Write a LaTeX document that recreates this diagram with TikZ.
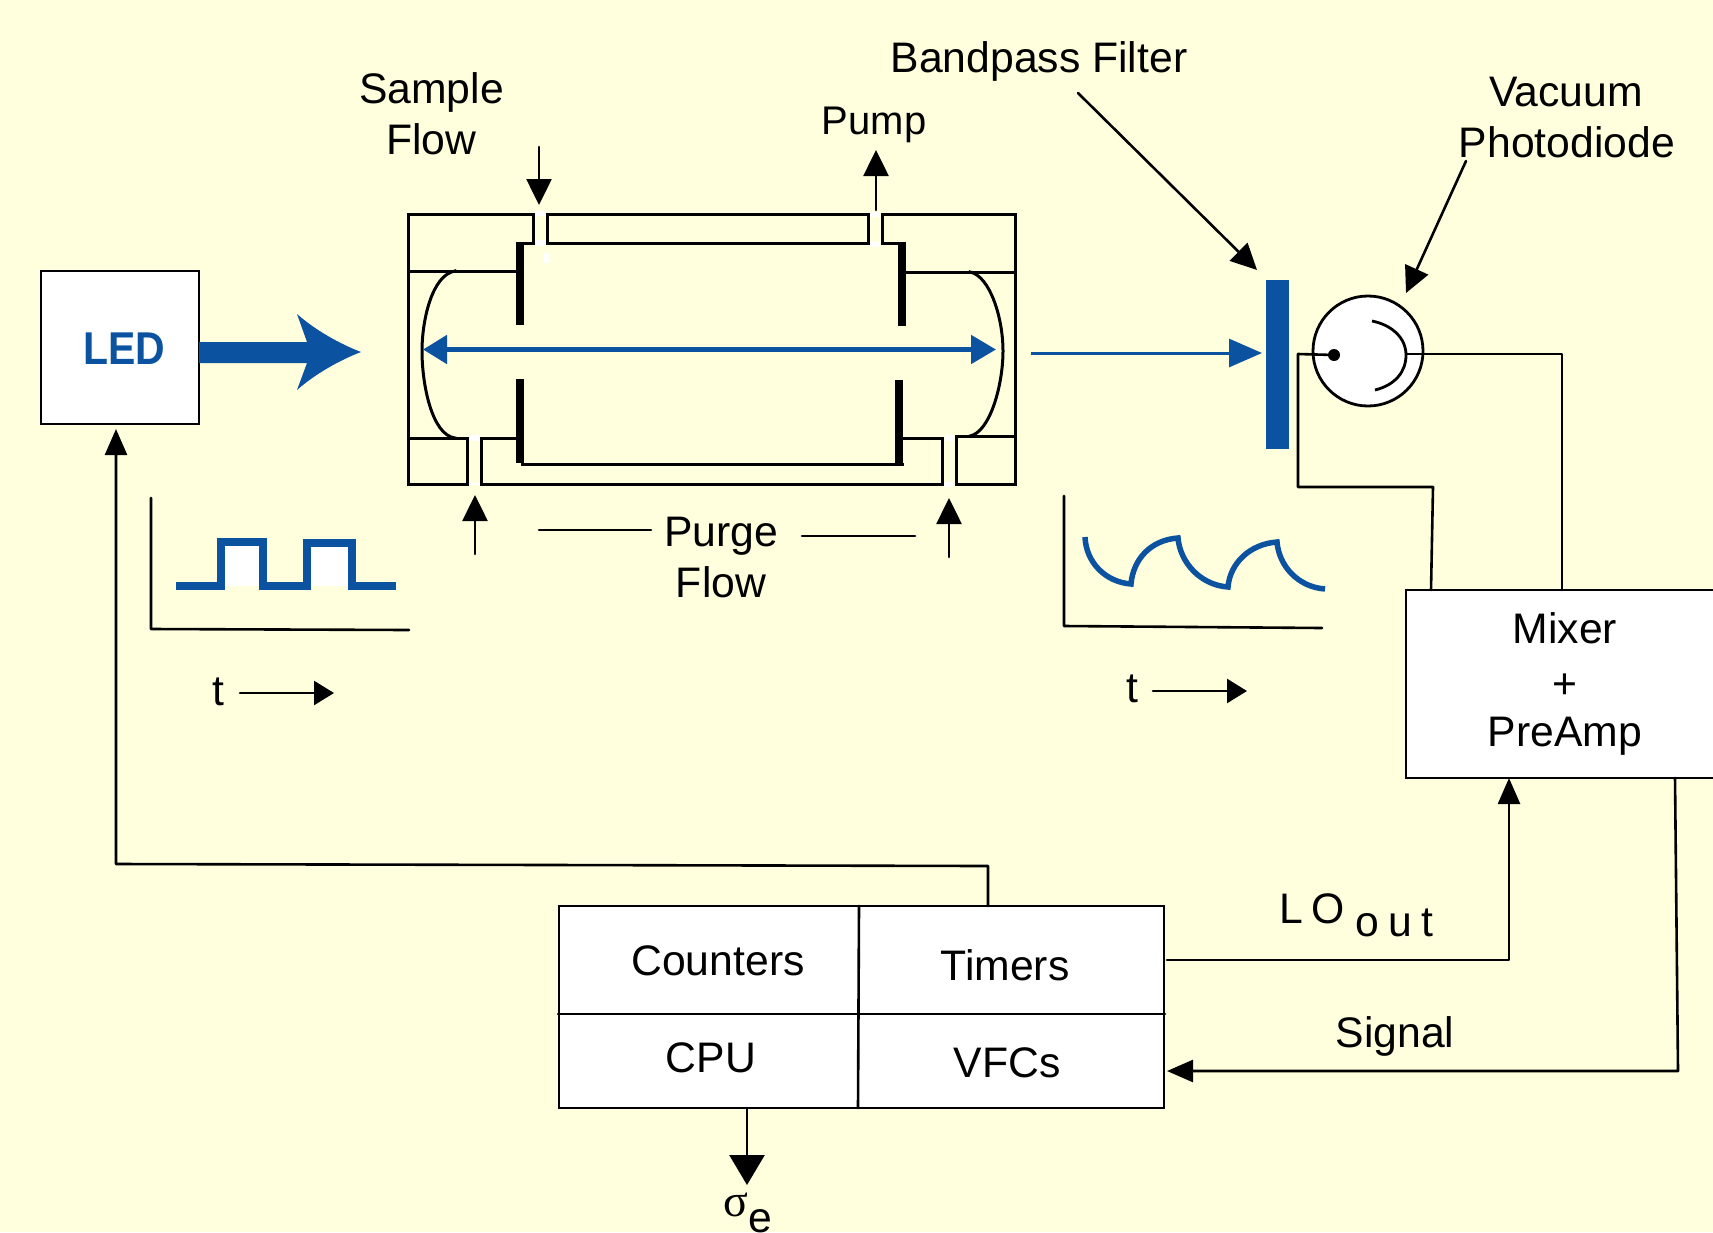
\documentclass[tikz,border=0pt]{standalone}
\usepackage{fontspec}
\setmainfont{Liberation Sans}
\newfontfamily\greekserif{Liberation Serif}
\usetikzlibrary{arrows.meta}
\definecolor{bgcream}{HTML}{FFFFDE}
\definecolor{ledblue}{HTML}{0B52A0}
\tikzset{
  x=1pt,y=-1pt,
  wire/.style={draw=black,line width=2.6pt,line cap=round,line join=round},
  stopper/.style={fill=black,draw=none},
  tip/.style={-{Triangle[length=26pt,width=25pt]}},
  bigtip/.style={-{Triangle[length=30pt,width=35pt]}},
  bluepath/.style={draw=ledblue,line join=miter},
  label/.style={anchor=base,inner sep=0pt,outer sep=0pt,font=\fontsize{42.7}{50}\selectfont},
  portgap/.style={fill=white,draw=none},
  boxnode/.style={draw=black,line width=2.8pt,fill=white,inner sep=0pt}
}
\begin{document}
\begin{tikzpicture}
\clip (0,0) rectangle (1713,1232);
\fill[bgcream] (0,0) rectangle (1713,1232);

% ---------- LED and its beam
\node[boxnode,minimum width=158pt,minimum height=153pt] (led) at (120,347.5) {};
\node[inner sep=0pt,text=ledblue,font=\fontsize{46}{50}\selectfont\bfseries] (ledtext) at (124,349) {\scalebox{.89}[1]{LED}};
\fill[ledblue] (199,342) -- (307,342) -- (297,314) .. controls (315,330) and (340,344) .. (361,352) .. controls (340,360) and (315,374) .. (297,390) -- (307,363) -- (199,363) -- cycle;

% ---------- cell
\begin{scope}[line width=3pt,line cap=rect]
\draw (533,214) -- (408,214) -- (408,484) -- (467,484);
\draw (547,214) -- (868,214);
\draw (882,214) -- (1015,214) -- (1015,484) -- (956,484);
\draw (481,484) -- (942,484);
\draw (520,243) -- (533,243) -- (533,214);
\draw (547,214) -- (547,243) -- (868,243) -- (868,214);
\draw (882,214) -- (882,243) -- (902,243);
\draw (522,464) -- (902,464);
\draw (408,271) -- (516,271);
\draw (408,438) -- (467,438) -- (467,484);
\draw (481,484) -- (481,438) -- (516,438);
\draw (906,272) -- (1015,272);
\draw (903,438) -- (942,438) -- (942,484);
\draw (956,484) -- (956,436) -- (1015,436);
\draw (455,271) .. controls (432,275) and (422,320) .. (422,351) .. controls (422,385) and (432,435) .. (455,438);
\draw (970,272) .. controls (990,276) and (1003,318) .. (1003,351) .. controls (1003,385) and (990,432) .. (970,436);
\end{scope}
\fill[stopper] (516,242) rectangle (524,325);
\fill[stopper] (516,379) rectangle (524,463);
\fill[stopper] (898,242) rectangle (906,326);
\fill[stopper] (895,380) rectangle (903,464);
% white flecks in the ports
\fill[portgap] (535.5,211) rectangle (545.5,216);
\fill[portgap] (535.5,240) rectangle (545.5,246);
\fill[portgap] (544,253) rectangle (549,263);
\fill[portgap] (870,212) rectangle (880,217);
\fill[portgap] (870,242) rectangle (880,247);
\fill[portgap] (469.5,435) rectangle (478.5,441);
\fill[portgap] (469,483) rectangle (479,485);
\fill[portgap] (944.5,435) rectangle (953.5,441);
\fill[portgap] (944,482) rectangle (954,487);
% beam through the cell
\draw[ledblue,line width=5pt,{Triangle[length=24pt,width=28pt]}-{Triangle[length=25pt,width=28pt]}] (423,349.5) -- (996,349.5);

% ---------- flow arrows
\coordinate (samplein) at (539,147); \coordinate (sampletip) at (539,205);
\coordinate (pumpout) at (876,210); \coordinate (pumptip) at (876,150);
\coordinate (purgeL) at (475,554); \coordinate (purgeLtip) at (475,495);
\coordinate (purgeR) at (949,557); \coordinate (purgeRtip) at (949,498);
\draw[wire,tip] (samplein) -- (sampletip);
\draw[wire,tip] (pumpout) -- (pumptip);
\draw[wire,tip] (purgeL) -- (purgeLtip);
\draw[wire,tip] (purgeR) -- (purgeRtip);
\coordinate (dashLa) at (539,530); \coordinate (dashLb) at (651,530);
\coordinate (dashRa) at (802,536); \coordinate (dashRb) at (915,536);
\draw[wire] (dashLa) -- (dashLb);
\draw[wire] (dashRa) -- (dashRb);

% ---------- filter and photodiode
\fill[ledblue] (1266,280) rectangle (1289,449);
\draw[ledblue,line width=3pt,-{Triangle[length=33pt,width=28pt]}] (1031,353) -- (1262,353);
\node[circle,draw=black,line width=2.8pt,fill=white,minimum size=110pt,inner sep=0pt] (pd) at (1368,351) {};
\node[circle,fill=black,minimum size=12pt,inner sep=0pt] (anode) at (1334,355) {};
\draw[line width=2.8pt] (1372,321) .. controls (1392,325) and (1406,338) .. (1406,355) .. controls (1406,372) and (1395,385) .. (1375,390);

% ---------- mixer
\node[boxnode,minimum width=319pt,minimum height=188pt] (mixer) at (1565.5,684) {};
\coordinate (mixA) at (1431,590);
\coordinate (mixB) at (1562,590);
\coordinate (mixC) at (1509,778);
\coordinate (mixD) at (1675,778);
\draw[wire] (anode.center) -- (1298,354) -- (1298,487) -- (1433,487) -- (mixA);
\draw[wire] (1406,354) -- (1562,354) -- (mixB);

% ---------- computer
\node[boxnode,minimum width=605pt,minimum height=202pt] (daq) at (861.5,1007) {};
\coordinate (divT) at (859,906); \coordinate (divB) at (858,1108);
\coordinate (divL) at (558,1014); \coordinate (divR) at (1165,1014);
\draw[wire] (divT) -- (divB);
\draw[wire] (divL) -- (divR);

% ---------- connectors
\coordinate (ledtap) at (988,906);
\coordinate (ledtip) at (116,429);
\draw[wire,-{Triangle[length=26pt,width=22pt]}] (ledtap) -- (988,866) -- (116,864) -- (ledtip);
\coordinate (loA) at (1167,960);
\draw[wire,-{Triangle[length=26pt,width=22pt]}] (loA) -- (1509,960) -- (mixC);
\coordinate (sigtip) at (1167,1071);
\draw[wire,-{Triangle[length=26pt,width=22pt]}] (mixD) -- (1678,1071) -- (sigtip);
\coordinate (sigmaA) at (747,1108); \coordinate (sigmaB) at (747,1185);
\draw[wire,bigtip] (sigmaA) -- (sigmaB);
\coordinate (bpA) at (1078,93); \coordinate (bpB) at (1257,270);
\draw[wire,tip] (bpA) -- (bpB);
\coordinate (vacA) at (1466,161); \coordinate (vacB) at (1406,293);
\draw[wire,tip] (vacA) -- (vacB);

% ---------- graphs
\coordinate (g1a) at (151,498); \coordinate (g1b) at (151,629); \coordinate (g1c) at (409,630);
\draw[wire] (g1a) -- (g1b) -- (g1c);
\fill[white] (221,542) rectangle (263,586);
\fill[white] (307,543) rectangle (352,586);
\draw[bluepath,line width=8pt] (176,586) -- (221,586) -- (221,542) -- (263,542) -- (263,586) -- (307,586) -- (307,543) -- (352,543) -- (352,586) -- (396,586);
\coordinate (t1a) at (240,693); \coordinate (t1b) at (334,693);
\draw[wire,-{Triangle[length=20pt,width=24pt]}] (t1a) -- (t1b);
\coordinate (g2a) at (1064,496); \coordinate (g2b) at (1064,626); \coordinate (g2c) at (1322,628);
\draw[wire] (g2a) -- (g2b) -- (g2c);
\draw[bluepath,line width=5.5pt]
 (1085,537) .. controls (1086,562) and (1105,582) .. (1131,584)
 .. controls (1133,560) and (1150,540) .. (1178,538)
 .. controls (1180,562) and (1200,585) .. (1228,587)
 .. controls (1230,563) and (1250,544) .. (1277,542)
 .. controls (1279,566) and (1298,587) .. (1325,589);
\coordinate (t2a) at (1153,691); \coordinate (t2b) at (1247,691);
\draw[wire,-{Triangle[length=20pt,width=24pt]}] (t2a) -- (t2b);

% ---------- text
\node[label] (sampleT) at (431.5,103) {Sample};
\node[label] (flowT) at (431.5,154) {Flow};
\node[label,font=\fontsize{40}{48}\selectfont] (pumpT) at (874,134) {Pump};
\node[label] (bpT) at (1039,72) {Bandpass Filter};
\node[label] (vacT) at (1566,106) {Vacuum};
\node[label] (photoT) at (1567,157) {Photodiode};
\node[label] (purgeT) at (721,546) {Purge};
\node[label] (purge2T) at (721,597) {Flow};
\node[label] (t1T) at (218,705) {t};
\node[label] (t2T) at (1132,702) {t};
\node[label] (mixT) at (1565,643) {Mixer};
\node[label] (plusT) at (1565,698) {+};
\node[label] (preT) at (1565,746) {PreAmp};
\node[label] (cntT) at (718,975) {Counters};
\node[label] (tmrT) at (1005,980) {Timers};
\node[label] (cpuT) at (711,1072) {CPU};
\node[label] (vfcT) at (1007,1077) {VFCs};
\node[label] (loT) at (1356.5,923) {L\kern8pt O\kern11pt\raisebox{-13pt}{o\kern9pt u\kern10pt t}};
\node[label] (sigT) at (1395,1047) {Signal};
\node[label] (sigmaT) at (748,1216) {{\greekserif\fontsize{46}{50}\selectfont σ}\raisebox{-16pt}{e}};
\end{tikzpicture}
\end{document}
